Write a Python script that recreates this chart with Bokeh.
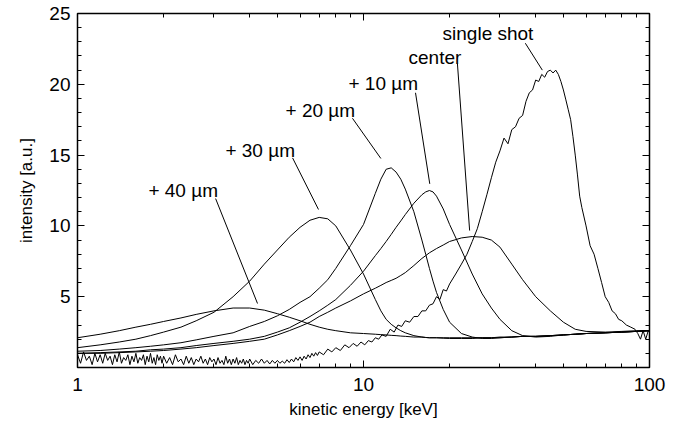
from bokeh.plotting import figure
from bokeh.models import Range1d, LogAxis, LinearAxis, FixedTicker, PrintfTickFormatter
from bokeh.embed import file_html
from bokeh.resources import INLINE
from bokeh.core.properties import value

# ---------------- data ----------------
kev = [1, 1.2, 1.4, 1.6, 1.8, 2, 2.3, 2.6, 3, 3.5,
       4, 4.5, 5, 5.5, 6, 6.5, 7, 7.5, 8, 9,
       10, 11, 11.5, 12, 12.5, 13, 13.5, 14, 15, 16,
       16.5, 17, 17.5, 18, 19, 20, 22, 24, 26, 28,
       30, 33, 36, 40, 45, 50, 55, 60, 70, 80,
       90, 100]

plus40 = [2.1, 2.35, 2.6, 2.85, 3.05, 3.25, 3.5, 3.75, 4.0, 4.2,
          4.2, 4.05, 3.8, 3.55, 3.3, 3.05, 2.85, 2.7, 2.6, 2.45,
          2.4, 2.35, 2.32, 2.3, 2.27, 2.25, 2.22, 2.2, 2.15, 2.15,
          2.12, 2.1, 2.1, 2.1, 2.1, 2.1, 2.1, 2.1, 2.1, 2.1,
          2.15, 2.15, 2.2, 2.2, 2.25, 2.3, 2.35, 2.4, 2.45, 2.5,
          2.55, 2.6]

plus30 = [1.4, 1.6, 1.8, 2.0, 2.25, 2.5, 2.85, 3.3, 3.9, 5.0,
          6.1, 7.3, 8.3, 9.2, 9.9, 10.4, 10.6, 10.5, 10.0, 8.3,
          6.6, 4.8, 4.0, 3.4, 3.05, 2.8, 2.6, 2.45, 2.25, 2.15,
          2.12, 2.1, 2.1, 2.1, 2.07, 2.05, 2.05, 2.05, 2.1, 2.1,
          2.1, 2.15, 2.2, 2.2, 2.25, 2.3, 2.35, 2.4, 2.45, 2.5,
          2.55, 2.6]

plus20 = [1.15, 1.2, 1.3, 1.4, 1.5, 1.6, 1.75, 1.95, 2.2, 2.45,
          2.9, 3.25, 3.65, 4.1, 4.6, 5.0, 5.6, 6.2, 7.0, 8.6,
          10.1, 12.3, 13.3, 14.0, 14.1, 13.8, 13.3, 12.6, 11.0, 9.0,
          8.0, 7.0, 6.1, 5.3, 4.1, 3.2, 2.4, 2.15, 2.05, 2.05,
          2.1, 2.15, 2.2, 2.2, 2.25, 2.3, 2.35, 2.4, 2.45, 2.5,
          2.55, 2.6]

plus10 = [1.0, 1.05, 1.1, 1.15, 1.25, 1.3, 1.4, 1.55, 1.7, 1.85,
          2.0, 2.2, 2.5, 2.8, 3.2, 3.6, 4.0, 4.4, 4.8, 5.8,
          6.8, 7.9, 8.4, 8.9, 9.4, 9.9, 10.35, 10.8, 11.6, 12.2,
          12.4, 12.5, 12.4, 12.1, 11.2, 10.1, 8.3, 6.6, 5.2, 4.2,
          3.4, 2.6, 2.25, 2.15, 2.2, 2.3, 2.35, 2.4, 2.45, 2.5,
          2.55, 2.6]

center = [1.0, 1.0, 1.05, 1.1, 1.15, 1.2, 1.3, 1.4, 1.55, 1.7,
          1.85, 2.0, 2.3, 2.6, 2.9, 3.2, 3.6, 3.9, 4.2, 4.7,
          5.2, 5.6, 5.8, 6.0, 6.15, 6.3, 6.5, 6.7, 7.2, 7.7,
          7.9, 8.1, 8.25, 8.4, 8.65, 8.9, 9.15, 9.25, 9.2, 9.0,
          8.5, 7.3, 6.2, 5.0, 4.0, 3.2, 2.7, 2.55, 2.5, 2.55,
          2.6, 2.6]

shot_kev = [1.000, 1.025, 1.050, 1.075, 1.100, 1.125, 1.150, 1.175, 1.200, 1.225,
            1.250, 1.275, 1.300, 1.325, 1.350, 1.375, 1.400, 1.425, 1.450, 1.475,
            1.500, 1.525, 1.550, 1.575, 1.600, 1.625, 1.650, 1.675, 1.700, 1.725,
            1.750, 1.775, 1.800, 1.825, 1.850, 1.875, 1.900, 1.925, 1.950, 1.975,
            2.00, 2.05, 2.10, 2.15, 2.20, 2.25, 2.30, 2.35, 2.40, 2.45,
            2.50, 2.55, 2.60, 2.65, 2.70, 2.75, 2.80, 2.85, 2.90, 2.95,
            3.00, 3.05, 3.10, 3.15, 3.20, 3.25, 3.30, 3.35, 3.40, 3.45,
            3.50, 3.55, 3.60, 3.65, 3.70, 3.75, 3.80, 3.85, 3.90, 3.95,
            4.0, 4.1, 4.2, 4.3, 4.4, 4.5, 4.6, 4.7, 4.8, 4.9,
            5.0, 5.1, 5.2, 5.3, 5.4, 5.5, 5.6, 5.7, 5.8, 5.9,
            6.0, 6.1, 6.2, 6.3, 6.4, 6.5, 6.6, 6.7, 6.8, 6.9,
            7.00, 7.25, 7.50, 7.75, 8.00, 8.30, 8.60, 8.90, 9.20, 9.50,
            9.80, 10.1, 10.4, 10.7, 11.0, 11.3, 11.6, 12.0, 12.4, 12.8,
            13.2, 13.6, 14.0, 14.5, 15.0, 15.5, 16.0, 16.5, 17.0, 17.5,
            18.0, 18.5, 19.0, 19.5, 20.0, 21.0, 22.0, 23.0, 24.0, 25.0,
            26.0, 27.0, 28.0, 29.0, 30.0, 31.0, 32.0, 33.0, 34.0, 35.0,
            36.0, 37.0, 38.0, 39.0, 40.0, 41.0, 42.0, 43.0, 44.0, 45.0,
            46.0, 47.0, 48.0, 49.0, 50.0, 51.0, 52.0, 53.0, 54.0, 55.0,
            56.0, 57.0, 58.0, 60.0, 62.0, 64.0, 66.0, 68.0, 70.0, 72.0,
            74.0, 76.0, 78.0, 80.0, 83.0, 86.0, 89.0, 91.0, 93.0, 95.0,
            97.0, 99.0, 100.0]

shot_int = [0.9, 0.3, 1.1, 0.5, 0.8, 0.2, 1.0, 0.4, 0.9, 0.3,
            1.0, 0.5, 0.8, 0.2, 0.9, 0.4, 1.1, 0.3, 0.7, 0.5,
            0.9, 0.2, 0.8, 0.4, 1.0, 0.3, 0.7, 0.5, 0.9, 0.2,
            0.8, 0.4, 1.0, 0.3, 0.7, 0.2, 0.9, 0.5, 0.8, 0.3,
            0.8, 0.3, 0.7, 0.2, 0.9, 0.4, 0.6, 0.2, 0.8, 0.3,
            0.7, 0.2, 0.6, 0.4, 0.8, 0.3, 0.6, 0.2, 0.7, 0.4,
            0.6, 0.2, 0.7, 0.3, 0.5, 0.2, 0.8, 0.3, 0.6, 0.2,
            0.6, 0.3, 0.7, 0.2, 0.5, 0.3, 0.6, 0.2, 0.5, 0.3,
            0.6, 0.2, 0.5, 0.3, 0.6, 0.3, 0.5, 0.25, 0.5, 0.3,
            0.5, 0.3, 0.45, 0.3, 0.55, 0.35, 0.6, 0.4, 0.7, 0.5,
            0.75, 0.5, 0.8, 0.6, 0.9, 0.7, 1.0, 0.8, 1.05, 0.85,
            1.1, 0.9, 1.3, 1.1, 1.4, 1.2, 1.6, 1.4, 1.7, 1.5,
            1.8, 1.6, 1.9, 1.8, 2.1, 2.0, 2.3, 2.2, 2.7, 2.5,
            3.0, 2.9, 3.3, 3.2, 3.6, 3.6, 4.0, 4.0, 4.4, 4.5,
            5.0, 4.8, 5.5, 5.4, 5.9, 6.6, 7.3, 8.0, 8.9, 9.8,
            11.0, 12.2, 13.4, 14.5, 15.3, 16.2, 15.8, 16.8, 17.0, 17.6,
            17.8, 18.8, 19.4, 19.6, 20.3, 20.2, 20.7, 20.5, 20.9, 21.0,
            20.8, 21.0, 20.7, 20.2, 19.6, 18.9, 18.2, 17.5, 16.3, 15.0,
            13.6, 12.1, 11.3, 10.0, 8.6, 8.0, 7.0, 6.0, 5.0, 4.6,
            4.0, 3.8, 3.4, 3.3, 3.0, 2.85, 2.7, 2.4, 2.0, 2.6,
            2.0, 2.6, 2.5]

label_text = ["+ 40 \u00b5m", "+ 30 \u00b5m", "+ 20 \u00b5m", "+ 10 \u00b5m", "center", "single shot"]
label_kev = [1.77, 3.29, 5.34, 8.86, 14.37, 18.9]
label_int = [12.5, 15.3, 18.15, 20.06, 21.9, 23.6]
leader_kev0 = [3.04, 5.65, 9.15, 15.2, 21.3, 36.8]
leader_int0 = [11.93, 14.8, 17.6, 19.4, 21.47, 22.9]
leader_kev1 = [4.26, 6.96, 11.5, 17.05, 23.5, 42.2]
leader_int1 = [4.52, 11.16, 14.76, 12.97, 9.67, 21.0]

x_major = [1, 10, 100]
x_minor = [2, 3, 4, 5, 6, 7, 8, 9, 20, 30, 40, 50, 60, 70, 80, 90]
y_major = [5, 10, 15, 20, 25]
y_minor = [1, 2, 3, 4, 6, 7, 8, 9, 11, 12, 13, 14, 16, 17, 18, 19, 21, 22, 23, 24]

for s in (plus40, plus30, plus20, plus10, center):
    assert len(s) == len(kev)
assert len(shot_kev) == len(shot_int)

# ---------------- figure ----------------
FONT = "Liberation Sans"
p = figure(width=681, height=428, x_axis_type="log",
           x_range=Range1d(1, 100), y_range=Range1d(0, 25),
           output_backend="svg", toolbar_location=None,
           min_border_left=77, min_border_right=32,
           min_border_top=13, min_border_bottom=61)
p.background_fill_color = "white"
p.border_fill_color = "white"
p.xgrid.visible = False
p.ygrid.visible = False
p.outline_line_color = "black"
p.outline_line_width = 1.5

def style(ax, show_labels):
    ax.major_tick_in = 7
    ax.major_tick_out = 0
    ax.minor_tick_in = 4
    ax.minor_tick_out = 0
    ax.axis_line_color = "black"
    ax.major_tick_line_color = "black"
    ax.minor_tick_line_color = "black"
    ax.major_label_text_font = FONT
    ax.major_label_text_color = "black"
    ax.axis_label_text_font = FONT
    ax.axis_label_text_font_style = "normal"
    ax.axis_label_text_color = "black"
    if not show_labels:
        ax.major_label_text_font_size = "1px"
        ax.major_label_text_color = None
        ax.major_label_standoff = 0

xa = p.xaxis[0]
xa.ticker = FixedTicker(ticks=x_major, minor_ticks=x_minor)
xa.formatter = PrintfTickFormatter(format="%d")
style(xa, True)
xa.major_label_text_font_size = "19px"
xa.major_label_standoff = 10
xa.axis_label = "kinetic energy [keV]"
xa.axis_label_text_font_size = "17px"
xa.axis_label_standoff = 6

ya = p.yaxis[0]
ya.ticker = FixedTicker(ticks=y_major, minor_ticks=y_minor)
style(ya, True)
ya.major_label_text_font_size = "19px"
ya.major_label_standoff = 7
ya.axis_label = "intensity [a.u.]"
ya.axis_label_text_font_size = "17px"
ya.axis_label_standoff = 10

top = LogAxis(ticker=FixedTicker(ticks=x_major, minor_ticks=x_minor),
              formatter=PrintfTickFormatter(format="%d"))
style(top, False)
p.add_layout(top, "above")
right = LinearAxis(ticker=FixedTicker(ticks=y_major, minor_ticks=y_minor))
style(right, False)
p.add_layout(right, "right")

for ys in (plus40, plus30, plus20, plus10, center):
    p.line(kev, ys, line_color="black", line_width=1)
p.line(shot_kev, shot_int, line_color="black", line_width=1)

p.segment(x0=leader_kev0, y0=leader_int0, x1=leader_kev1, y1=leader_int1,
          line_color="black", line_width=1)
p.text(x=label_kev, y=label_int, text=label_text,
       text_font=value(FONT), text_font_size="19px",
       text_baseline="middle", text_align="left", text_color="black")

open("out.html", "w").write(file_html(p, INLINE))
